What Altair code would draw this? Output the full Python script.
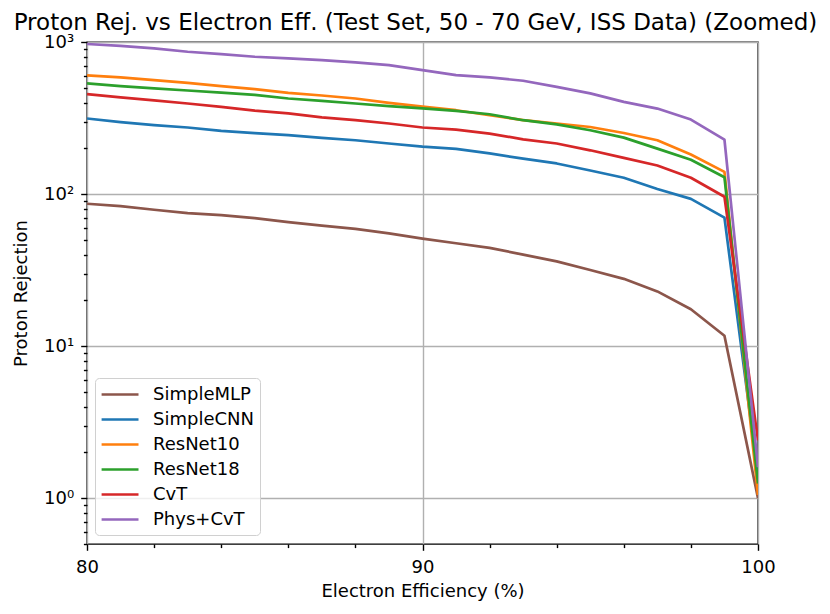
import altair as alt
import pandas as pd

efficiency = list(range(80, 101))

models = ["SimpleMLP", "SimpleCNN", "ResNet10", "ResNet18", "CvT", "Phys+CvT"]
colors = ["#8c564b", "#1f77b4", "#ff7f0e", "#2ca02c", "#d62728", "#9467bd"]

simple_mlp = [86.4, 83.3, 78.9, 75.0, 72.7, 69.5, 65.4, 62.1, 59.0, 55.2, 51.0,
              47.5, 44.3, 40.0, 36.1, 31.7, 27.7, 22.9, 17.5, 11.7, 1.0]
simple_cnn = [314, 297, 284, 274, 260, 252, 244, 234, 226, 215, 205,
              198, 185, 171, 159, 143, 128, 108, 93, 70, 1.4]
resnet10 = [603, 585, 561, 539, 513, 490, 463, 445, 425, 398, 376,
            356, 330, 306, 291, 276, 252, 226, 182, 140, 1.05]
resnet18 = [534, 513, 495, 480, 465, 449, 425, 410, 394, 379, 366,
            352, 335, 306, 287, 263, 235, 199, 168, 129, 1.25]
cvt = [454, 432, 413, 394, 374, 354, 339, 319, 306, 291, 274,
       265, 250, 229, 215, 194, 173, 154, 128, 96, 2.4]
phys_cvt = [970, 942, 908, 863, 833, 800, 780, 760, 734, 705, 653,
            606, 585, 556, 507, 459, 404, 365, 309, 228, 1.6]

series = [simple_mlp, simple_cnn, resnet10, resnet18, cvt, phys_cvt]

rows = []
for order, (name, vals) in enumerate(zip(models, series)):
    for x, v in zip(efficiency, vals):
        rows.append({"model": name, "eff": x, "rej": v, "order": order})
df = pd.DataFrame(rows)

x_ticks = list(range(80, 101, 2))
y_ticks = []
for dec in [0.1, 1, 10, 100]:
    for m in range(1, 10):
        v = round(m * dec, 6)
        if 0.5 <= v <= 1000:
            y_ticks.append(v)
y_ticks.append(1000)

FONT = "DejaVu Sans"
is_major_y = "abs(log(datum.value)/LN10 - round(log(datum.value)/LN10)) < 1e-6"
is_major_x = "datum.value % 10 == 0"

chart = alt.Chart(df).mark_line(strokeWidth=2.7, clip=True, strokeJoin="round").encode(
    x=alt.X("eff:Q",
            scale=alt.Scale(domain=[80, 100], nice=False, zero=False),
            axis=alt.Axis(
                values=x_ticks,
                title="Electron Efficiency (%)",
                labelExpr=f"{is_major_x} ? datum.label : ''",
                tickSize={"condition": {"test": is_major_x, "value": 6.3}, "value": 3.6},
                gridOpacity={"condition": {"test": is_major_x, "value": 1}, "value": 0},
                labelPadding=8,
                titlePadding=6,
            )),
    y=alt.Y("rej:Q",
            scale=alt.Scale(type="log", domain=[0.5, 1000], nice=False),
            axis=alt.Axis(
                values=y_ticks,
                title="Proton Rejection",
                labelExpr=("datum.value == 1 ? '10⁰' : datum.value == 10 ? '10¹' : "
                           "datum.value == 100 ? '10²' : datum.value == 1000 ? '10³' : ''"),
                tickSize={"condition": {"test": is_major_y, "value": 6.3}, "value": 3.6},
                gridOpacity={"condition": {"test": is_major_y, "value": 1}, "value": 0},
                labelPadding=7,
                titlePadding=13,
            )),
    color=alt.Color("model:N",
                    scale=alt.Scale(domain=models, range=colors),
                    sort=models,
                    legend=alt.Legend(
                        title=None,
                        orient="none",
                        legendX=8,
                        legendY=336,
                        padding=6,
                        symbolType="M-1.1,0L3,0",
                        symbolSize=324,
                        symbolStrokeWidth=2.7,
                        labelOffset=31,
                        rowPadding=5,
                        labelFontSize=18,
                        labelFont=FONT,
                        strokeColor="#d0d0d0",
                        fillColor="rgba(255,255,255,0.8)",
                        cornerRadius=4,
                    )),
    order=alt.Order("order:Q"),
).properties(
    width=671,
    height=502,
    autosize=alt.AutoSizeParams(type="none"),
    padding={"left": 79, "top": 34, "right": 64, "bottom": 62},
    title=alt.TitleParams(
        "Proton Rej. vs Electron Eff. (Test Set, 50 - 70 GeV, ISS Data) (Zoomed)",
        fontSize=23,
        font=FONT,
        fontWeight="normal",
        anchor="middle",
        frame="group",
        offset=-2,
        dx=-7,
        color="black",
    ),
).configure_view(
    stroke="black",
    strokeWidth=1.4,
).configure_axis(
    labelFont=FONT,
    titleFont=FONT,
    labelFontSize=18,
    titleFontSize=18,
    titleFontWeight="normal",
    labelColor="black",
    titleColor="black",
    tickColor="black",
    tickWidth=1.4,
    domain=False,
    gridColor="#b0b0b0",
    gridWidth=1.4,
    labelFlush=False,
    labelOverlap=False,
)

chart.save("out.html", embed_options={"renderer": "svg", "actions": False})
